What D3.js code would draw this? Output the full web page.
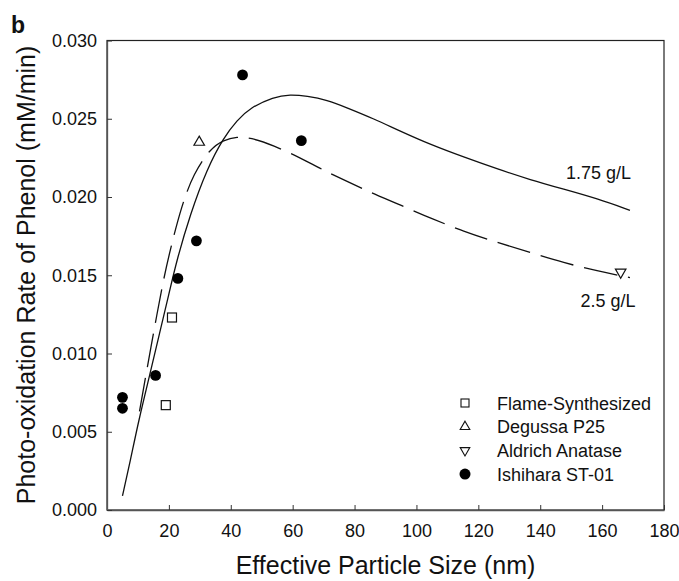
<!DOCTYPE html>
<html>
<head>
<meta charset="utf-8">
<script src="https://cdn.jsdelivr.net/npm/d3@7"></script>
<style>
  body { margin: 0; background: #fff; }
  text { font-family: "Liberation Sans", Arial, sans-serif; fill: #111; }
</style>
</head>
<body>
<div id="chart-area"></div>
<script>
// values
const flameSynth = [[21, 0.0123], [19, 0.0067]];
const degussa = [[29.8, 0.0235]];
const aldrich = [[166, 0.0152]];
const ishihara = [[5, 0.0072], [5, 0.0065], [15.7, 0.0086], [22.9, 0.0148],
    [28.9, 0.0172], [43.8, 0.0278], [62.8, 0.0236]];

const fit175 = [[5, 0.0009], [7.5, 0.0031], [10.2, 0.0057], [13.9, 0.0087], [17, 0.0113],
    [20, 0.0138], [22.6, 0.016], [26.9, 0.0189], [32.3, 0.0218], [37.7, 0.0238],
    [42, 0.0249], [46.3, 0.0257], [53.8, 0.0264], [59.2, 0.02655], [64.6, 0.02645],
    [71.1, 0.0262], [77.6, 0.0257], [86.2, 0.025], [94.8, 0.0242], [104.5, 0.02335],
    [115.3, 0.02255], [126, 0.0218], [136.8, 0.0211], [147.6, 0.0205], [158.4, 0.0199],
    [169, 0.01915]];
const fit25 = [[10.5, 0.0063], [13, 0.0091], [15.4, 0.0117], [18, 0.0145], [20.5, 0.0167],
    [24.2, 0.0195], [28, 0.0215], [33.4, 0.0231], [37.7, 0.02365], [42, 0.02385],
    [46.3, 0.0238], [53.8, 0.0233], [62.5, 0.0225], [70, 0.0217], [77.6, 0.021],
    [86.2, 0.0202], [97, 0.0193], [104.5, 0.01865], [115.3, 0.0178], [126, 0.0171],
    [136.8, 0.01645], [147.6, 0.0158], [158.4, 0.01527], [169, 0.01485]];

const xTicks = [0, 20, 40, 60, 80, 100, 120, 140, 160, 180];
const yTicks = [0, 0.005, 0.010, 0.015, 0.020, 0.025, 0.030];
const legendNames = ["Flame-Synthesized", "Degussa P25", "Aldrich Anatase", "Ishihara ST-01"];

const margin = { left: 107, top: 40.5, right: 15, bottom: 71 };
const chartSize = { width: 679, height: 581 };
const width = chartSize.width - margin.left - margin.right;
const height = chartSize.height - margin.top - margin.bottom;

const svg = d3.select("#chart-area").append("svg")
    .attr("width", chartSize.width)
    .attr("height", chartSize.height);

const g = svg.append("g").attr("transform", `translate(${margin.left}, ${margin.top})`);

const x = d3.scaleLinear().domain([0, 180]).range([0, width]);
const y = d3.scaleLinear().domain([0, 0.030]).range([height, 0]);

// frame
g.append("rect")
    .attr("width", width).attr("height", height)
    .attr("fill", "none").attr("stroke", "#222").attr("stroke-width", 1.2);

const xAxis = d3.axisBottom(x).tickValues(xTicks).tickSizeInner(-5).tickSizeOuter(0).tickPadding(14);
g.append("g").attr("class", "x-axis")
    .attr("transform", `translate(0, ${height})`)
    .call(xAxis);

const yAxis = d3.axisLeft(y).tickValues(yTicks).tickFormat(d3.format(".3f"))
    .tickSizeInner(-5).tickSizeOuter(0).tickPadding(10);
g.append("g").attr("class", "y-axis").call(yAxis);

g.selectAll(".x-axis .domain, .y-axis .domain").attr("stroke", "#555").attr("stroke-width", 1.3);
g.selectAll(".tick line").attr("stroke", "#333");
g.selectAll(".tick text").attr("font-size", 18).attr("font-family", "Liberation Sans, Arial, sans-serif").attr("fill", "#111");

// axis titles
svg.append("text")
    .attr("x", margin.left + width / 2).attr("y", 574)
    .attr("text-anchor", "middle").attr("font-size", 25)
    .text("Effective Particle Size (nm)");

svg.append("text")
    .attr("transform", "rotate(-90)")
    .attr("x", -275).attr("y", 35)
    .attr("text-anchor", "middle").attr("font-size", 25)
    .text("Photo-oxidation Rate of Phenol (mM/min)");

svg.append("text")
    .attr("x", 11).attr("y", 33)
    .attr("font-size", 23).attr("font-weight", "bold")
    .text("b");

// fitted curves
const line = d3.line()
    .x(d => x(d[0]))
    .y(d => y(d[1]))
    .curve(d3.curveBasis);

g.append("path").attr("d", line(fit175))
    .attr("fill", "none").attr("stroke", "#111").attr("stroke-width", 1.3);

g.append("path").attr("d", line(fit25))
    .attr("fill", "none").attr("stroke", "#111").attr("stroke-width", 1.3)
    .attr("stroke-dasharray", "34,11");

g.append("text").attr("x", x(148.3)).attr("y", y(0.02118) ).attr("font-size", 18).text("1.75 g/L");
g.append("text").attr("x", x(153)).attr("y", y(0.01295)).attr("font-size", 18).text("2.5 g/L");

// data points
g.selectAll(".sq").data(flameSynth).join("rect")
    .attr("class", "sq")
    .attr("x", d => x(d[0]) - 4.5).attr("y", d => y(d[1]) - 4.5)
    .attr("width", 9).attr("height", 9)
    .attr("fill", "#fff").attr("stroke", "#111").attr("stroke-width", 1.2);

const tri = d3.symbol(d3.symbolTriangle, 48);

g.selectAll(".up").data(degussa).join("path")
    .attr("class", "up")
    .attr("d", tri)
    .attr("transform", d => `translate(${x(d[0])}, ${y(d[1])})`)
    .attr("fill", "#fff").attr("stroke", "#111").attr("stroke-width", 1.2);

g.selectAll(".down").data(aldrich).join("path")
    .attr("class", "down")
    .attr("d", tri)
    .attr("transform", d => `translate(${x(d[0])}, ${y(d[1])}) rotate(180)`)
    .attr("fill", "#fff").attr("stroke", "#111").attr("stroke-width", 1.2);

g.selectAll(".dot").data(ishihara).join("circle")
    .attr("class", "dot")
    .attr("cx", d => x(d[0])).attr("cy", d => y(d[1]))
    .attr("r", 5.4).attr("fill", "#000");

// legend
const legend = svg.append("g").attr("transform", "translate(465, 403)");
legendNames.forEach((name, i) => {
    const row = legend.append("g").attr("transform", `translate(0, ${i * 23.7})`);
    if (i === 0) {
        row.append("rect").attr("x", -4).attr("y", -4).attr("width", 8).attr("height", 8)
            .attr("fill", "#fff").attr("stroke", "#111").attr("stroke-width", 1.1);
    } else if (i === 1) {
        row.append("path").attr("d", d3.symbol(d3.symbolTriangle, 40))
            .attr("fill", "#fff").attr("stroke", "#111").attr("stroke-width", 1.1);
    } else if (i === 2) {
        row.append("path").attr("d", d3.symbol(d3.symbolTriangle, 40)).attr("transform", "rotate(180)")
            .attr("fill", "#fff").attr("stroke", "#111").attr("stroke-width", 1.1);
    } else {
        row.append("circle").attr("r", 5.5).attr("fill", "#000");
    }
    row.append("text").attr("x", 32).attr("y", 6.5).attr("font-size", 18).text(name);
});
</script>
</body>
</html>
